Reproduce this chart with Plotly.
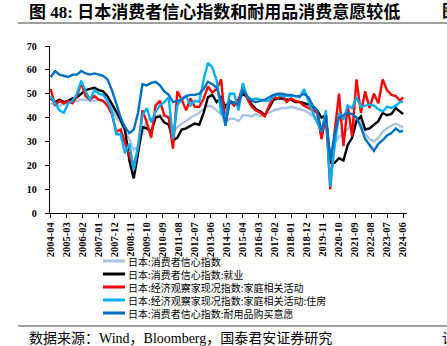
import pandas as pd
import plotly.graph_objects as go

# ---- data (monthly samples, every 3 months from 2004-04, last point 2024-06) ----
dates = [d.strftime("%Y-%m-%d") for d in pd.date_range("2004-04-01", "2024-04-01", freq="3MS")] + ["2024-06-01"]

cci = [46,45.5,45,45.5,46,46.5,47,47.5,47.5,47,47,47.5,47,46,44,40,38,34,31,26.5,28,34,39,39.5,40.5,41,40.5,40.5,33.5,36,
       37.5,38.5,40,41,42,43.5,45,44.5,43,41.5,38,39.5,39.5,38.5,41,41,40.5,41.5,40.5,41.5,42,43,43.5,44,44,44.5,44,43.5,43,42,
       40.5,38.5,36,37,25,29,32,33,35,37,39.5,38,33,31,30,31.5,34,35.5,36.5,37.5,36.5,36]
employment = [48,46.5,47.5,46.5,47,48,48.5,50,51.5,52,52.5,51.5,51,49,46,42.5,39,35,22,14.5,25,36,35.5,34,40,40.5,38,37,30.5,31.5,
              35,35.5,36.5,37.5,37,42,48.5,49.5,46.5,48.5,44.5,47,46,47.5,50,48.5,45.5,43.5,42.5,41,44,47.5,48,48,47.5,47.5,46.5,46.5,46,45.5,
              44.5,43,40,41,21,21,23,22,28.5,31.5,38.5,40.5,35,35.5,37,38.5,42,41,41.5,44,42.5,41.5]
household = [52,45,47,46,47,46,49,54.5,49,47.5,49,47.5,47,45,41.5,34,35,29.5,24,20,27,43,38,31.5,45,47,41,40,27,51,
             47.5,43,48,44.5,44.5,48,53,50.5,52,56,37.5,47,45,47.5,53,48,44.5,43,42,40.5,45,48.5,48,49.5,46.5,48,47,46.5,45,44,
             43,42,31,41,10,34,50,28,45,32,56,42,51,44,50,46,56,51.5,49.5,49,47,48.5]
housing = [49,46,43,42,46,47,50,55.5,51,47.5,51.5,50,49.5,47,42.5,33,33,25,29,18,28,41,44,38,42.5,45,46.5,48.5,31,45,
           48,49,45,47,46.5,56,63,61,55.5,42,40,50,50,43,54.5,48.5,47.5,48,47.5,47,47,49,49.5,49,49,49,49,48.5,52,47,
           42,38,34,43,11,28,42,39,45,44,48.5,44.5,45,45.5,45,43.5,42.5,44.5,44,45,46.5,46.5]
durables = [57,59.5,58,57.5,57,58,58,59.5,58.5,58,58.5,58,57.5,56,51.5,46,40,36,33.5,35,42,54,53.5,54.5,55,53.5,51,49.5,46.5,47,
            47.5,49,49.5,49.5,50,52,55,54,52.5,47,36.5,47,46,45.5,51.5,49,47,46.5,47,47.5,48.5,49.5,50,50,49.5,49.5,49,49,50,48.5,
            45,43,34,41,22,33,40,41,42,41.5,40,36,31,28.5,26,29,30.5,32.5,33.5,35.5,34,34.5]

series_names = ["日本:消费者信心指数", "日本:消费者信心指数:就业", "日本:经济观察家现况指数:家庭相关活动",
                "日本:经济观察家现况指数:家庭相关活动:住房", "日本:消费者信心指数:耐用品购买意愿"]
series_colors = ["#a9c4e4", "#000000", "#ff0000", "#00b0f0", "#0070c0"]
series_values = [cci, employment, household, housing, durables]

tick_labels = ["2004-04","2005-03","2006-02","2007-01","2007-12","2008-11","2009-10","2010-09","2011-08","2012-07",
               "2013-06","2014-05","2015-04","2016-03","2017-02","2018-01","2018-12","2019-11","2020-10","2021-09",
               "2022-08","2023-07","2024-06"]
tick_vals = [t + "-01" for t in tick_labels]

title_text = "图 48: 日本消费者信心指数和耐用品消费意愿较低"
source_text = "数据来源：Wind，Bloomberg，国泰君安证券研究"

# ---- figure ----
W, H = 447, 346
ML, MR, MT, MB = 50, 40, 46, 133
PW, PH = W - ML - MR, H - MT - MB

def px(x):
    return (x - ML) / PW

def py(y):
    return (H - MB - y) / PH

fig = go.Figure()
for name, col, vals in zip(series_names, series_colors, series_values):
    fig.add_trace(go.Scatter(x=dates, y=vals, mode="lines", name=name,
                             line=dict(color=col, width=2.4), showlegend=False))

serif = "Liberation Serif, Times New Roman, Noto Sans CJK SC, serif"
tickfont = dict(family=serif, size=10, color="#000000", weight="bold")

fig.update_layout(
    width=W, height=H,
    margin=dict(l=ML, r=MR, t=MT, b=MB),
    paper_bgcolor="white", plot_bgcolor="white",
    xaxis=dict(type="date", range=["2004-03-17", "2024-08-22"], tickmode="array",
               tickvals=tick_vals, ticktext=tick_labels, tickangle=-90,
               tickfont=dict(family=serif, size=10.5, color="#000000", weight="bold"),
               showgrid=False, zeroline=False, showline=True, linecolor="#000000", linewidth=1.3,
               ticks="outside", ticklen=4, tickcolor="#000000", tickwidth=1),
    yaxis=dict(range=[0, 70], dtick=10, tickfont=tickfont, showgrid=False, zeroline=False,
               showline=True, linecolor="#000000", linewidth=1.3, ticks="outside", ticklen=4,
               tickcolor="#000000", ticklabelstandoff=6),
    yaxis2=dict(range=[0, 60], dtick=10, overlaying="y", side="right", tickfont=tickfont,
                showgrid=False, zeroline=False, showline=True, linecolor="#808080", linewidth=1.3,
                ticks="outside", ticklen=4, tickcolor="#808080", ticklabelstandoff=4),
)

shapes = []
annotations = []
# header / footer rules
shapes.append(dict(type="line", xref="paper", yref="paper", x0=px(18), x1=px(447), y0=py(23), y1=py(23),
                   line=dict(color="#404040", width=1.2)))
shapes.append(dict(type="line", xref="paper", yref="paper", x0=px(18), x1=px(447), y0=py(326), y1=py(326),
                   line=dict(color="#404040", width=1.2)))
annotations.append(dict(text=title_text, xref="paper", yref="paper", x=px(27), y=py(12), xanchor="left",
                        yanchor="middle", showarrow=False,
                        font=dict(family=serif, size=17, color="#000000", weight="bold")))
annotations.append(dict(text="图", xref="paper", yref="paper", x=px(440), y=py(12), xanchor="left",
                        yanchor="middle", showarrow=False,
                        font=dict(family=serif, size=17, color="#000000", weight="bold")))
annotations.append(dict(text=source_text, xref="paper", yref="paper", x=px(27), y=py(338), xanchor="left",
                        yanchor="middle", showarrow=False,
                        font=dict(family=serif, size=14, color="#000000")))
annotations.append(dict(text="请", xref="paper", yref="paper", x=px(440), y=py(338), xanchor="left",
                        yanchor="middle", showarrow=False,
                        font=dict(family=serif, size=14, color="#000000")))

# legend (manual, compact rows: one multi-line text block + line swatches)
row_y = [261, 274, 287, 300, 313]
for col, ry in zip(series_colors, row_y):
    shapes.append(dict(type="line", xref="paper", yref="paper", x0=px(103), x1=px(125), y0=py(ry), y1=py(ry),
                       line=dict(color=col, width=3)))
annotations.append(dict(text="<br>".join(series_names), xref="paper", yref="paper", x=px(126),
                        y=py(sum(row_y) / len(row_y)), xanchor="left", yanchor="middle", align="left",
                        showarrow=False,
                        font=dict(family="Noto Sans CJK SC, sans-serif", size=10, color="#000000")))

fig.update_layout(shapes=shapes, annotations=annotations)
fig.write_html("out.html")
